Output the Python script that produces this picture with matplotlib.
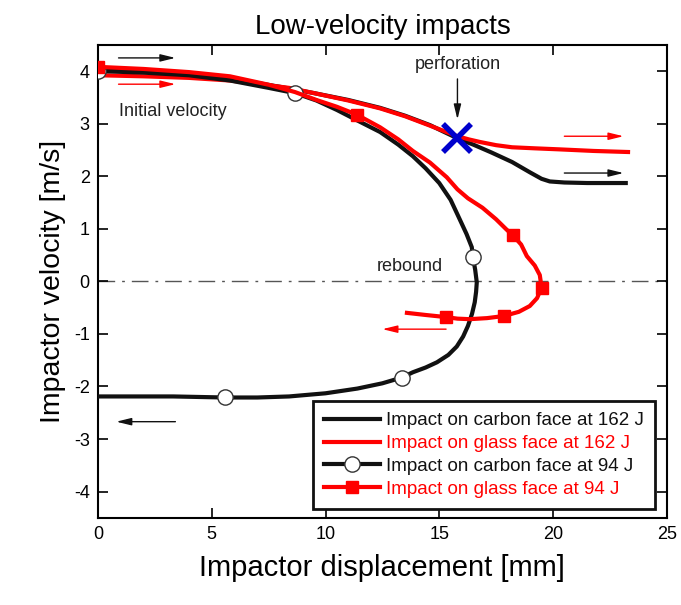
import matplotlib
matplotlib.use('Agg')
import matplotlib.pyplot as plt
import numpy as np

plt.rcParams['font.family'] = ['Liberation Sans', 'DejaVu Sans']
plt.rcParams['axes.unicode_minus'] = False

# Impact on carbon face at 162 J
c162_x = [0, 2.0, 4.0, 5.8, 8.0, 9.5, 11.0, 12.4, 13.5, 14.6, 15.8, 16.5, 17.3, 18.2,
          19.0, 19.5, 19.86, 20.5, 21.5, 23.2]
c162_y = [4.05, 4.02, 3.95, 3.86, 3.70, 3.58, 3.45, 3.30, 3.15, 2.97, 2.72, 2.60, 2.45,
          2.27, 2.07, 1.95, 1.90, 1.88, 1.87, 1.87]

# Impact on glass face at 162 J
g162_x = [0, 2.0, 4.0, 5.8, 8.4, 9.5, 11.0, 12.4, 13.5, 14.6, 15.8, 16.3, 16.8, 17.5,
          18.2, 19.2, 20.3, 21.8, 23.3]
g162_y = [3.92, 3.90, 3.87, 3.82, 3.68, 3.58, 3.44, 3.29, 3.14, 2.96, 2.76, 2.70, 2.65,
          2.59, 2.55, 2.53, 2.51, 2.48, 2.46]

# Impact on carbon face at 94 J
c94_x = [0, 2.0, 4.0, 5.8, 7.5, 8.66, 9.6, 10.5, 11.4, 12.4, 13.2, 13.84, 14.4, 15.0,
         15.5, 15.9, 16.2, 16.43, 16.48, 16.58, 16.65, 16.62, 16.56, 16.44, 16.26, 16.05,
         15.77, 15.4, 14.9, 14.4, 13.84, 13.36, 12.5, 11.4, 10.0, 8.4, 7.0, 5.58, 3.3, 0]
c94_y = [4.00, 3.97, 3.92, 3.82, 3.68, 3.58, 3.44, 3.26, 3.06, 2.84, 2.60, 2.38, 2.15,
         1.87, 1.55, 1.18, 0.90, 0.65, 0.46, 0.22, -0.02, -0.20, -0.40, -0.62, -0.85,
         -1.05, -1.24, -1.40, -1.54, -1.64, -1.73, -1.83, -1.94, -2.04, -2.13, -2.19,
         -2.21, -2.21, -2.19, -2.19]
c94_marks = [0, 5, 18, 31, 37]

# Impact on glass face at 94 J
g94_x = [0, 2.0, 4.0, 5.8, 7.5, 8.66, 9.6, 10.5, 11.38, 12.4, 13.2, 13.84, 14.59, 15.33,
         15.8, 16.26, 16.9, 17.5, 17.97, 18.23, 18.6, 18.85, 19.2, 19.42, 19.5, 19.3,
         18.98, 18.5, 17.84, 17.1, 16.34, 15.8, 15.29, 14.4, 13.58]
g94_y = [4.08, 4.04, 3.98, 3.90, 3.74, 3.60, 3.45, 3.32, 3.17, 2.93, 2.70, 2.48, 2.26,
         1.98, 1.75, 1.58, 1.40, 1.18, 0.98, 0.88, 0.70, 0.48, 0.30, 0.12, -0.12, -0.32,
         -0.47, -0.58, -0.66, -0.70, -0.72, -0.71, -0.68, -0.64, -0.60]
g94_marks = [0, 8, 19, 24, 28, 32]

perf_x, perf_y = 15.8, 2.72

fig = plt.figure(figsize=(6.81, 6.05), dpi=100)
ax = fig.add_axes([0.144, 0.144, 0.835, 0.782])

ax.axhline(0, color='#555555', lw=1.0, ls=(0, (12, 5, 2, 5)), zorder=1)

ax.plot(c162_x, c162_y, color='#111111', lw=3, solid_joinstyle='round', zorder=3,
        label='Impact on carbon face at 162 J')
ax.plot(g162_x, g162_y, color='#ff0000', lw=3, solid_joinstyle='round', zorder=3,
        label='Impact on glass face at 162 J')
ax.plot(c94_x, c94_y, color='#111111', lw=3, solid_joinstyle='round', zorder=3,
        marker='o', markevery=c94_marks, markersize=11, markerfacecolor='white',
        markeredgecolor='#333333', markeredgewidth=1.0,
        label='Impact on carbon face at 94 J')
ax.plot(g94_x, g94_y, color='#ff0000', lw=3, solid_joinstyle='round', zorder=4,
        marker='s', markevery=g94_marks, markersize=9, markerfacecolor='#ff0000',
        markeredgecolor='#ff0000', label='Impact on glass face at 94 J')

ax.plot(perf_x, perf_y, marker='x', color='#0000cc', markersize=20,
        markeredgewidth=4, zorder=5)

def arrow(x0, x1, y, color):
    ax.annotate('', xy=(x1, y), xytext=(x0, y),
                arrowprops=dict(arrowstyle='-|>,head_length=0.9,head_width=0.22',
                                color=color, lw=1.0, shrinkA=0, shrinkB=0))

arrow(0.9, 3.4, 4.25, '#111111')
arrow(0.9, 3.4, 3.75, '#ff0000')
arrow(20.5, 23.1, 2.76, '#ff0000')
arrow(20.5, 23.1, 2.06, '#111111')
arrow(15.3, 12.5, -0.91, '#ff0000')
arrow(3.4, 0.8, -2.67, '#111111')

ax.annotate('', xy=(perf_x, 3.08), xytext=(perf_x, 3.85),
            arrowprops=dict(arrowstyle='-|>,head_length=0.9,head_width=0.22',
                            color='#111111', lw=1.0, shrinkA=0, shrinkB=0))
ax.text(perf_x, 3.97, 'perforation', ha='center', va='bottom', fontsize=13, color='#222222')
ax.text(0.9, 3.23, 'Initial velocity', ha='left', va='center', fontsize=13, color='#222222')
ax.text(13.7, 0.29, 'rebound', ha='center', va='center', fontsize=13, color='#222222')

ax.set_xlim(0, 25)
ax.set_ylim(-4.5, 4.5)
ax.set_xticks(np.arange(0, 26, 5))
ax.set_yticks(np.arange(-4, 5, 1))
ax.tick_params(direction='in', top=True, right=True, length=7, width=1.2,
               labelsize=13, pad=6)
for s in ax.spines.values():
    s.set_linewidth(1.5)

ax.set_title('Low-velocity impacts', fontsize=20, pad=8)
ax.set_xlabel('Impactor displacement [mm]', fontsize=21, labelpad=8)
ax.set_ylabel('Impactor velocity [m/s]', fontsize=20.5, labelpad=6)

leg = ax.legend(loc='lower right', bbox_to_anchor=(0.979, 0.019), borderaxespad=0,
                fontsize=13.5, fancybox=False, framealpha=1, edgecolor='#111111',
                handlelength=3.0, handletextpad=0.3, borderpad=0.6, labelspacing=0.3)
leg.get_frame().set_linewidth(2)
for t, c in zip(leg.get_texts(), ['#111111', '#ff0000', '#111111', '#ff0000']):
    t.set_color(c)

fig.savefig('out.png', dpi=100)
